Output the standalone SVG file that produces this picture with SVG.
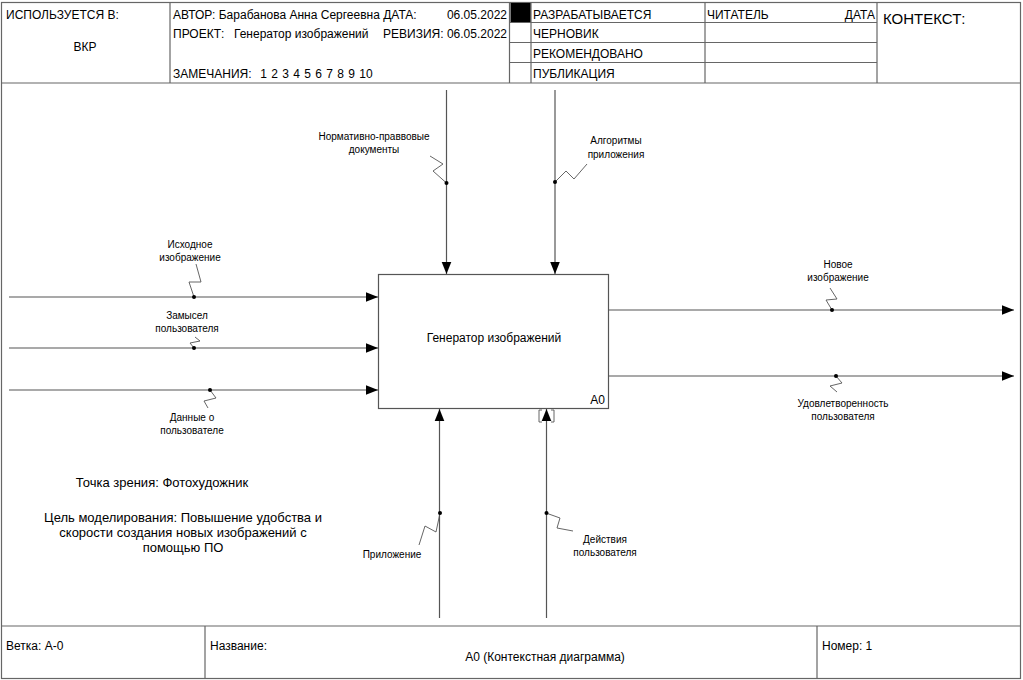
<svg xmlns="http://www.w3.org/2000/svg" width="1023" height="680" viewBox="0 0 1023 680">
<style>
.fr{fill:none;stroke:#666;stroke-width:1.2}
.t{font-family:"Liberation Sans",Arial,sans-serif;font-size:12px;fill:#000}
.s{font-family:"Liberation Sans",Arial,sans-serif;font-size:10px;fill:#000;text-anchor:middle}
.n{font-family:"Liberation Sans Narrow","Liberation Sans",Arial,sans-serif;font-size:12px;fill:#000}
.ln{fill:none;stroke:#555;stroke-width:1.2}
.sq{fill:none;stroke:#555;stroke-width:0.9}
.dot{fill:#000}
</style>
<defs>
<marker id="ah" viewBox="0 0 10 10" refX="10" refY="5" markerWidth="12" markerHeight="12" markerUnits="userSpaceOnUse" orient="auto">
<path d="M0,1 L10,5 L0,9 Z" fill="#000"/>
</marker>
</defs>
<rect width="1023" height="680" fill="#fff"/>
<g id="frame">
<rect class="fr" x="1.5" y="2.5" width="1019" height="676"/>
<line class="fr" x1="1.5" y1="83" x2="1020.5" y2="83"/>
<line class="fr" x1="170" y1="2.5" x2="170" y2="83"/>
<line class="fr" x1="509.5" y1="2.5" x2="509.5" y2="83"/>
<line class="fr" x1="531" y1="2.5" x2="531" y2="83"/>
<line class="fr" x1="705" y1="2.5" x2="705" y2="83"/>
<line class="fr" x1="877" y1="2.5" x2="877" y2="83"/>
<line class="fr" x1="509.5" y1="22.5" x2="877" y2="22.5"/>
<line class="fr" x1="509.5" y1="42.5" x2="877" y2="42.5"/>
<line class="fr" x1="509.5" y1="62.5" x2="877" y2="62.5"/>
<rect x="510.5" y="3" width="20" height="19" fill="#000"/>
<line class="fr" x1="1.5" y1="626" x2="1020.5" y2="626"/>
<line class="fr" x1="205" y1="626" x2="205" y2="678.5"/>
<line class="fr" x1="817" y1="626" x2="817" y2="678.5"/>
</g>
<g id="header-text">
<text class="t" x="6" y="19">ИСПОЛЬЗУЕТСЯ В:</text>
<text class="t" x="85" y="51" text-anchor="middle">ВКР</text>
<text class="t" x="173" y="19">АВТОР: Барабанова Анна Сергеевна ДАТА:</text>
<text class="t" x="507" y="19" text-anchor="end">06.05.2022</text>
<text class="t" x="173" y="38">ПРОЕКТ:</text>
<text class="t" x="234" y="38">Генератор изображений</text>
<text class="t" x="507" y="38" text-anchor="end">РЕВИЗИЯ: 06.05.2022</text>
<text class="t" x="173" y="78" xml:space="preserve" word-spacing="1">ЗАМЕЧАНИЯ:  1 2 3 4 5 6 7 8 9 10</text>
<text class="t" x="533" y="19">РАЗРАБАТЫВАЕТСЯ</text>
<text class="t" x="533" y="38">ЧЕРНОВИК</text>
<text class="t" x="533" y="58">РЕКОМЕНДОВАНО</text>
<text class="t" x="533" y="78">ПУБЛИКАЦИЯ</text>
<text class="t" x="707" y="19">ЧИТАТЕЛЬ</text>
<text class="t" x="875" y="19" text-anchor="end">ДАТА</text>
<text class="t" x="883" y="24" style="font-size:15px">КОНТЕКСТ:</text>
</g>
<g id="footer-text">
<text class="n" x="6" y="650">Ветка: А-0</text>
<text class="n" x="210" y="650">Название:</text>
<text class="n" x="545" y="661" text-anchor="middle">А0 (Контекстная диаграмма)</text>
<text class="n" x="822" y="650">Номер: 1</text>
</g>
<g id="A0">
<rect x="378.5" y="274.5" width="230" height="134" fill="#fff" stroke="#555" stroke-width="1.2"/>
<text class="t" x="494" y="342" text-anchor="middle">Генератор изображений</text>
<text class="t" x="605" y="404" text-anchor="end">A0</text>
</g>
<g id="notes">
<text class="t" x="162" y="487" text-anchor="middle" style="font-size:13px">Точка зрения: Фотохудожник</text>
<text class="t" x="183" y="522" text-anchor="middle" style="font-size:13px">Цель моделирования: Повышение удобства и</text>
<text class="t" x="183" y="537" text-anchor="middle" style="font-size:13px">скорости создания новых изображений с</text>
<text class="t" x="183" y="552" text-anchor="middle" style="font-size:13px">помощью ПО</text>
</g>
<g id="connectors">
<line class="ln" x1="446.5" y1="90" x2="446.5" y2="274" marker-end="url(#ah)"/>
<polyline class="sq" points="446.5,183 433,171 443,164 430,156"/>
<circle class="dot" cx="446.5" cy="183" r="2"/>
<text class="s" x="374" y="140">Нормативно-праввовые</text>
<text class="s" x="374" y="153">документы</text>
<line class="ln" x1="555" y1="90" x2="555" y2="274" marker-end="url(#ah)"/>
<polyline class="sq" points="555,182 566,171 574,179 587,164"/>
<circle class="dot" cx="555" cy="182" r="2"/>
<text class="s" x="616" y="144">Алгоритмы</text>
<text class="s" x="616" y="158">приложения</text>
<line class="ln" x1="9" y1="297" x2="378" y2="297" marker-end="url(#ah)"/>
<polyline class="sq" points="194,297 189,282 201,282 196,264"/>
<circle class="dot" cx="194" cy="297" r="2"/>
<text class="s" x="190" y="248">Исходное</text>
<text class="s" x="190" y="261">изображение</text>
<line class="ln" x1="9" y1="348" x2="378" y2="348" marker-end="url(#ah)"/>
<polyline class="sq" points="194,348 190,343 200,341 195,337"/>
<circle class="dot" cx="194" cy="348" r="2"/>
<text class="s" x="187" y="319">Замысел</text>
<text class="s" x="187" y="332">пользователя</text>
<line class="ln" x1="9" y1="390" x2="378" y2="390" marker-end="url(#ah)"/>
<polyline class="sq" points="210,390 216,398 204,401 208,408"/>
<circle class="dot" cx="210" cy="390" r="2"/>
<text class="s" x="192" y="421">Данные о</text>
<text class="s" x="192" y="434">пользователе</text>
<line class="ln" x1="608.5" y1="310" x2="1014" y2="310" marker-end="url(#ah)"/>
<polyline class="sq" points="832,310 826,300 837,299 830,288"/>
<circle class="dot" cx="832" cy="310" r="2"/>
<text class="s" x="838" y="268">Новое</text>
<text class="s" x="838" y="281">изображение</text>
<line class="ln" x1="608.5" y1="376" x2="1014" y2="376" marker-end="url(#ah)"/>
<polyline class="sq" points="836,376 842,383 830,386 837,392"/>
<circle class="dot" cx="836" cy="376" r="2"/>
<text class="s" x="843" y="407">Удовлетворенность</text>
<text class="s" x="843" y="420">пользователя</text>
<line class="ln" x1="439.5" y1="618" x2="439.5" y2="409" marker-end="url(#ah)"/>
<polyline class="sq" points="440,513 436,532 425,526 419,545"/>
<circle class="dot" cx="440" cy="513" r="2"/>
<text class="s" x="392" y="558">Приложение</text>
<line class="ln" x1="546.5" y1="618" x2="546.5" y2="409" marker-end="url(#ah)"/>
<path class="sq" d="M542,410 L539,410 L539,422 L542,422 M551,410 L554,410 L554,422 L551,422"/>
<polyline class="sq" points="546,513 560,518 557,528 573,531"/>
<circle class="dot" cx="546.5" cy="513" r="2"/>
<text class="s" x="605" y="543">Действия</text>
<text class="s" x="605" y="556">пользователя</text>
</g>
</svg>
